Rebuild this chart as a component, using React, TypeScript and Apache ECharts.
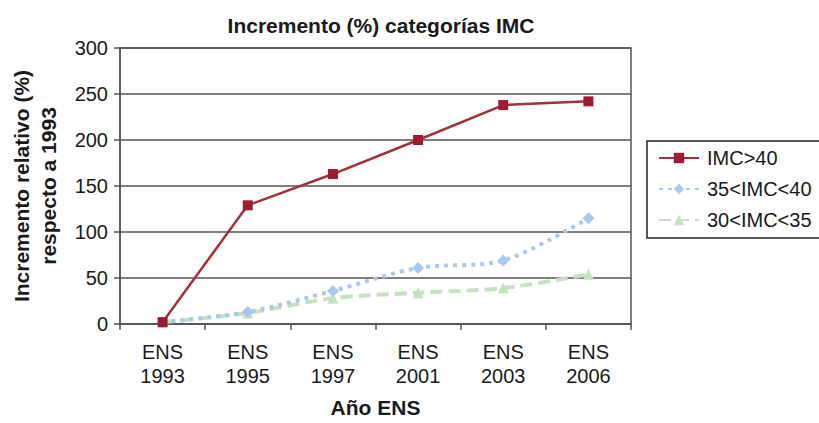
import React, { useEffect, useRef } from "react";
import * as echarts from "echarts";

const categories = ["ENS\n1993", "ENS\n1995", "ENS\n1997", "ENS\n2001", "ENS\n2003", "ENS\n2006"];
const imc40 = [2, 129, 163, 200, 238, 242];
const imc35_40 = [2, 13, 36, 61, 69, 115];
const imc30_35 = [2, 12, 28, 34, 39, 54];
const yTicks = { min: 0, max: 300, interval: 50 };

const FONT = "'Liberation Sans', Arial, sans-serif";

export default function App() {
  const ref = useRef<HTMLDivElement>(null);
  useEffect(() => {
    if (!ref.current) return;
    const chart = echarts.init(ref.current, undefined, { renderer: "svg" });
    chart.setOption({
      animation: false,
      backgroundColor: "#ffffff",
      textStyle: { fontFamily: FONT },
      title: {
        text: "Incremento (%) categorías IMC",
        left: 376,
        top: 10,
        textAlign: "center",
        textStyle: { fontFamily: FONT, fontSize: 21, fontWeight: "bold", color: "#1a1a1a" },
      },
      grid: {
        left: 120,
        right: 188,
        top: 48,
        bottom: 95,
        show: true,
        borderColor: "#555",
        borderWidth: 1.5,
      },
      legend: {
        orient: "vertical",
        left: 647,
        top: 141,
        padding: [7, 10, 8, 11],
        itemGap: 11,
        itemWidth: 40,
        itemHeight: 13,
        borderColor: "#222",
        borderWidth: 1.5,
        borderRadius: 0,
        textStyle: { fontFamily: FONT, fontSize: 20, color: "#1a1a1a", padding: [0, 0, 0, 3] },
        data: ["IMC>40", "35<IMC<40", "30<IMC<35"],
      },
      xAxis: {
        type: "category",
        data: categories,
        boundaryGap: true,
        name: "Año ENS",
        nameLocation: "middle",
        nameGap: 73,
        nameTextStyle: { fontFamily: FONT, fontSize: 21, fontWeight: "bold", color: "#1a1a1a" },
        axisLine: { lineStyle: { color: "#555", width: 1.5 } },
        axisTick: { show: true, alignWithLabel: false, length: 6, lineStyle: { color: "#555", width: 1.5 } },
        axisLabel: { fontFamily: FONT, fontSize: 20, color: "#1a1a1a", margin: 16, lineHeight: 24 },
        splitLine: { show: false },
      },
      yAxis: {
        type: "value",
        min: yTicks.min,
        max: yTicks.max,
        interval: yTicks.interval,
        name: "Incremento relativo (%)\nrespecto a 1993",
        nameLocation: "middle",
        nameGap: 58,
        nameRotate: 90,
        nameTextStyle: { fontFamily: FONT, fontSize: 21, fontWeight: "bold", color: "#1a1a1a", lineHeight: 27 },
        axisLine: { show: true, lineStyle: { color: "#555", width: 1.5 } },
        axisTick: { show: true, length: 6, lineStyle: { color: "#555", width: 1.5 } },
        axisLabel: { fontFamily: FONT, fontSize: 20, color: "#1a1a1a", margin: 12 },
        splitLine: { show: true, lineStyle: { color: "#555", width: 1.5 } },
      },
      series: [
        {
          name: "35<IMC<40",
          type: "line",
          data: imc35_40,
          smooth: 0.3,
          symbol: "diamond",
          symbolSize: 12,
          itemStyle: { color: "#a8c8ec" },
          lineStyle: { color: "#a8c8ec", width: 4, type: [4, 5] },
          z: 2,
        },
        {
          name: "30<IMC<35",
          type: "line",
          data: imc30_35,
          smooth: 0.3,
          symbol: "triangle",
          symbolSize: 11,
          itemStyle: { color: "#c5e2c0" },
          lineStyle: { color: "#c5e2c0", width: 4, type: [12, 6] },
          z: 1,
        },
        {
          name: "IMC>40",
          type: "line",
          data: imc40,
          smooth: false,
          symbol: "rect",
          symbolSize: 10,
          itemStyle: { color: "#9c1c34" },
          lineStyle: { color: "#a33236", width: 2.5 },
          z: 3,
        },
      ],
    });
    return () => chart.dispose();
  }, []);
  return <div ref={ref} style={{ width: 819, height: 423, position: "absolute", left: 0, top: 0 }} />;
}
